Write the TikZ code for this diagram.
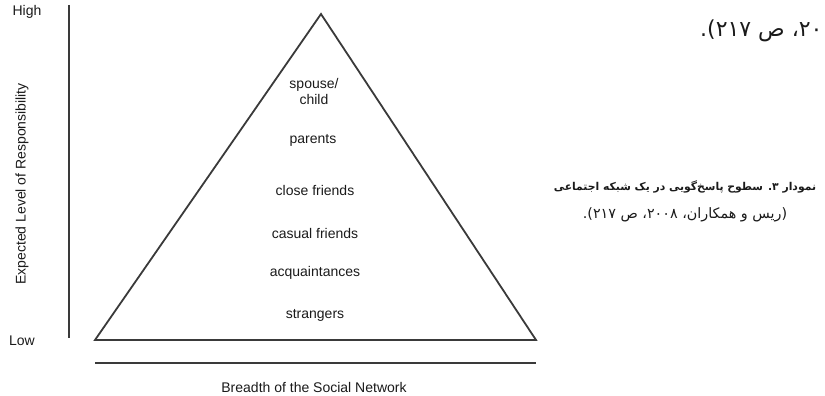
\documentclass[tikz,border=0pt]{standalone}
\usepackage{fontspec}
\setmainfont{Liberation Sans}
\newfontfamily\persianfont[Script=Arabic]{DejaVu Sans}
\TeXXeTstate=1
\usetikzlibrary{positioning}
\definecolor{axisgray}{HTML}{3A3A3A}
\definecolor{labelblack}{HTML}{1A1A1A}

\begin{document}
\begin{tikzpicture}[x=1pt, y=-1pt,
    level/.style={font=\fontsize{14}{16}\selectfont, text=labelblack,
      inner sep=0pt, align=center},
    axislabel/.style={font=\fontsize{14}{16}\selectfont, text=labelblack,
      inner sep=0pt},
    axisline/.style={draw=axisgray, line width=1.2pt},
    pyramid/.style={draw=axisgray, line width=1.8pt, line join=miter},
    fatext/.style={font=\persianfont\fontsize{14.3}{16}\selectfont,
      text=labelblack, inner sep=0pt}
  ]
  \useasboundingbox (0,0) rectangle (825,396);

  % axes
  \coordinate (ytop) at (69,5);
  \coordinate (ybot) at (69,338);
  \coordinate (xleft) at (95,363);
  \coordinate (xright) at (536,363);
  \draw[axisline] (ytop) -- (ybot);
  \draw[axisline] (xleft) -- (xright);
  \node[axislabel] (high) at (27,12) {High};
  \node[axislabel] (low) at (22,341) {Low};
  \node[axislabel, rotate=90] (resp) at (22,184) {Expected Level of Responsibility};
  \node[axislabel] (breadth) at (314,387) {Breadth of the Social Network};

  % pyramid
  \coordinate (apex) at (321,14);
  \coordinate (baseL) at (95,340);
  \coordinate (baseR) at (536,340);
  \draw[pyramid] (apex) -- (baseR) -- (baseL) -- cycle;

  \node[level] (spouse) at (314,91) {spouse/\\child};
  \node[level] (parents) at (313,140) {parents};
  \node[level] (close) at (315,190) {close friends};
  \node[level] (casual) at (315,233) {casual friends};
  \node[level] (acq) at (315,273) {acquaintances};
  \node[level] (strangers) at (315,315) {strangers};

  % persian text
  \begin{scope}
    \clip (560,0) rectangle (825,60);
    \node[fatext, font=\persianfont\fontsize{22}{26}\selectfont, anchor=west]
      (prevline) at (700,31) {\beginR ۲۰۰۸، ص ۲۱۷).\endR};
  \end{scope}
  \node[fatext, font=\persianfont\bfseries\fontsize{10.8}{14}\selectfont] (caption) at (685,187)
    {\beginR نمودار ۳. سطوح پاسخ‌گویی در یک شبکه اجتماعی\endR};
  \node[fatext, below=14pt of caption] (source)
    {\beginR (ریس و همکاران، ۲۰۰۸، ص ۲۱۷).\endR};
\end{tikzpicture}
\end{document}
